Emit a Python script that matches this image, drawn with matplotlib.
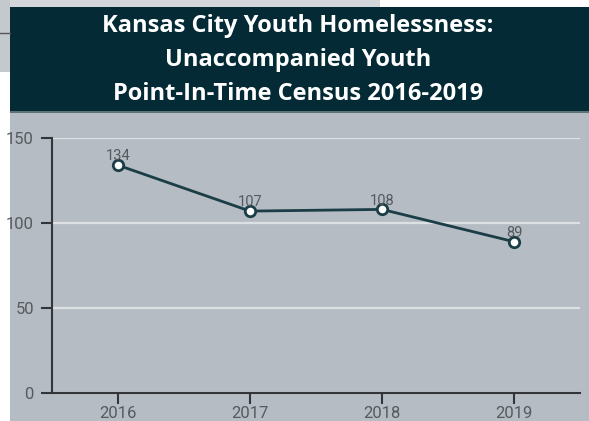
import matplotlib.pyplot as plt
from matplotlib.patches import Rectangle
from matplotlib.lines import Line2D

# datos
years = ['2016', '2017', '2018', '2019']
youth = [134, 107, 108, 89]
yticks = [0, 50, 100, 150]
title_lines = ['Kansas City Youth Homelessness:',
               'Unaccompanied Youth',
               'Point-In-Time Census 2016-2019']

W, H = 589, 421
bg_gray = '#b5bcc3'
band = '#032a35'
line_col = '#1b3e46'
txt_gray = '#555a5e'

fig = plt.figure(figsize=(W / 100, H / 100), dpi=100)
fig.patch.set_facecolor('white')

def px_rect(x0, y0, x1, y1, color):
    # rectangulo en pixeles (origen arriba a la izquierda)
    fig.patches.append(Rectangle((x0 / W, 1 - y1 / H), (x1 - x0) / W, (y1 - y0) / H,
                                 transform=fig.transFigure, color=color, zorder=-5, lw=0))

# fondo del grafico y banda del titulo
px_rect(0, 0, 380, 7, '#d3d7db')
px_rect(0, 0, 10, 72, '#c4c9ce')
fig.lines.append(Line2D([0, 10 / W], [1 - 33 / H] * 2, transform=fig.transFigure,
                        color='#555555', lw=1, zorder=-4))
px_rect(10, 112, W, H, bg_gray)
px_rect(10, 7, W, 112, band)
px_rect(10, 111, W, 113, '#5d7279')

for i, t in enumerate(title_lines):
    fig.text(298 / W, 1 - (32 + 34 * i) / H, t, ha='center', va='baseline',
             color='white', fontsize=17, fontweight='bold',
             family=['Open Sans', 'DejaVu Sans'])

ax = fig.add_axes([52 / W, 1 - 393 / H, 528 / W, 255 / H])
ax.set_facecolor('none')
ax.set_zorder(5)

x = list(range(len(years)))
ax.plot(x, youth, color=line_col, lw=2, marker='o', ms=7.5,
        mfc='white', mec=line_col, mew=2, zorder=3, clip_on=False)
for xi, v in zip(x, youth):
    ax.annotate(str(v), (xi, v), xytext=(0, 3.5), textcoords='offset points',
                ha='center', va='baseline', fontsize=10.5, color=txt_gray,
                family=['Roboto', 'DejaVu Sans'], zorder=4)

ax.set_xlim(-0.5, 3.5)
ax.set_ylim(0, 150)
ax.set_xticks(x)
ax.set_xticklabels(years)
ax.set_yticks(yticks)
ax.yaxis.grid(True, color='#dde1e5', lw=1.6)
ax.set_axisbelow(True)

for s in ['top', 'right']:
    ax.spines[s].set_visible(False)
for s in ['left', 'bottom']:
    ax.spines[s].set_color('#333638')
    ax.spines[s].set_linewidth(1.5)

ax.tick_params(length=8, width=1.5, color='#333638', labelcolor=txt_gray,
               labelsize=12)
ax.tick_params(axis='x', pad=1.5)
ax.tick_params(axis='y', pad=5)
for lab in ax.get_xticklabels() + ax.get_yticklabels():
    lab.set_family(['Roboto', 'DejaVu Sans'])

fig.savefig('out.png', dpi=100)
